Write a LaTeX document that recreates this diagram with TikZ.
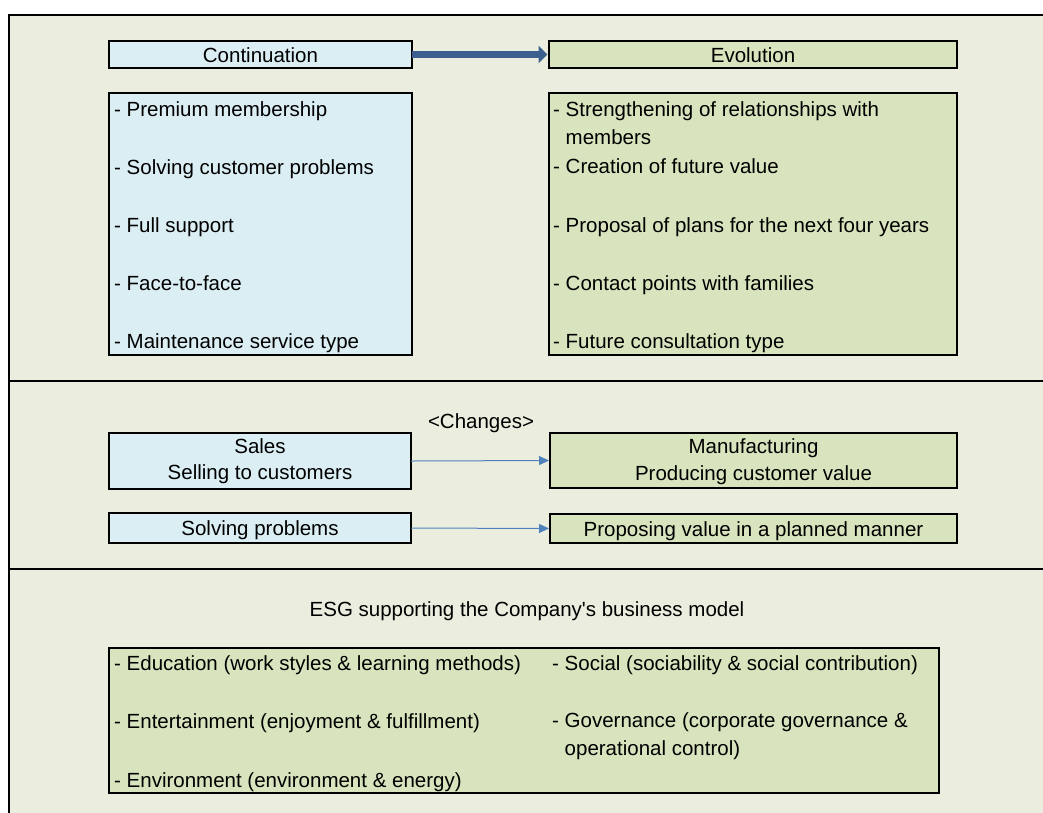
\documentclass[tikz,border=0pt]{standalone}
\usepackage{fontspec}
\setmainfont{Liberation Sans}
\usetikzlibrary{arrows.meta}
\definecolor{panelbg}{HTML}{EBEEDE}
\definecolor{bluefill}{HTML}{DBEEF4}
\definecolor{greenfill}{HTML}{D7E4BD}
\definecolor{thickarrowc}{HTML}{3C5F8F}
\definecolor{thinarrowc}{HTML}{4F81BD}
\begin{document}
\begin{tikzpicture}[x=1pt,y=-1pt,
  bluebox/.style={draw=black, line width=1.8pt, fill=bluefill, anchor=north west, inner sep=0pt, outer sep=0pt},
  greenbox/.style={draw=black, line width=1.8pt, fill=greenfill, anchor=north west, inner sep=0pt, outer sep=0pt},
  txt/.style={font=\fontsize{20.5}{28}\selectfont, inner sep=0pt, anchor=base west},
  ctxt/.style={font=\fontsize{20.5}{28}\selectfont, inner sep=0pt, anchor=base},
  divider/.style={draw=black, line width=1.8pt},
  bigarrow/.style={draw=thickarrowc, line width=7pt, -{Triangle[length=9pt,width=17pt]}, shorten >=1.5pt},
  smallarrow/.style={draw=thinarrowc, line width=1pt, -{Triangle[length=10pt,width=9pt]}, shorten >=1pt}]
\useasboundingbox (0,0) rectangle (1043,812);
\clip (0,0) rectangle (1043,812);
\fill[white] (0,0) rectangle (1043,812);
\filldraw[fill=panelbg, draw=black, line width=1.8pt] (9,15) rectangle (1070,840);
\draw[divider] (9,381) -- (1070,381);
\draw[divider] (9,569) -- (1070,569);

% top section
\node[bluebox, minimum width=303pt, minimum height=27pt] (cont) at (109,41) {};
\node[greenbox, minimum width=408pt, minimum height=27pt] (evol) at (549,41) {};
\node[bluebox, minimum width=303pt, minimum height=262pt] (contlist) at (109,93) {};
\node[greenbox, minimum width=408pt, minimum height=262pt] (evollist) at (549,93) {};
\draw[bigarrow] (cont.east) -- (evol.west);

\node[ctxt] (t-cont) at (260.5,62) {Continuation};
\node[ctxt] (t-evol) at (753,62) {Evolution};

\node[txt] (c1) at (114,116) {- Premium membership};
\node[txt] (c2) at (114,174) {- Solving customer problems};
\node[txt] (c3) at (114,232) {- Full support};
\node[txt] (c4) at (114,290) {- Face-to-face};
\node[txt] (c5) at (114,348) {- Maintenance service type};

\node[txt] (e1) at (553,116) {- Strengthening of relationships with};
\node[txt] (e1b) at (565.5,144) {members};
\node[txt] (e2) at (553,173) {- Creation of future value};
\node[txt] (e3) at (553,232) {- Proposal of plans for the next four years};
\node[txt] (e4) at (553,290) {- Contact points with families};
\node[txt] (e5) at (553,348) {- Future consultation type};

% middle section
\node[ctxt] (changes) at (481,428) {<Changes>};
\node[bluebox, minimum width=302pt, minimum height=56pt] (sales) at (109,433) {};
\node[greenbox, minimum width=407pt, minimum height=55pt] (manu) at (550,433) {};
\node[bluebox, minimum width=302pt, minimum height=30pt] (solv) at (109,513) {};
\node[greenbox, minimum width=407pt, minimum height=29pt] (prop) at (550,514) {};
\draw[smallarrow] (sales.east) -- (manu.west);
\draw[smallarrow] (solv.east) -- (prop.west);

\node[ctxt] (t-sales1) at (260,453) {Sales};
\node[ctxt] (t-sales2) at (260,479) {Selling to customers};
\node[ctxt] (t-manu1) at (753.5,453) {Manufacturing};
\node[ctxt] (t-manu2) at (753.5,480) {Producing customer value};
\node[ctxt] (t-solv) at (260,535) {Solving problems};
\node[ctxt] (t-prop) at (753.5,536) {Proposing value in a planned manner};

% bottom section
\node[ctxt] (esgtitle) at (527,616) {ESG supporting the Company\textquotesingle s business model};
\node[greenbox, minimum width=830pt, minimum height=145pt] (esg) at (109,648) {};
\node[txt] (g1) at (114,670) {- Education (work styles \& learning methods)};
\node[txt] (g2) at (114,728) {- Entertainment (enjoyment \& fulfillment)};
\node[txt] (g3) at (114,787) {- Environment (environment \& energy)};
\node[txt] (g4) at (552,670) {- Social (sociability \& social contribution)};
\node[txt] (g5) at (552,727) {- Governance (corporate governance \&};
\node[txt] (g5b) at (564.5,755) {operational control)};
\end{tikzpicture}
\end{document}
